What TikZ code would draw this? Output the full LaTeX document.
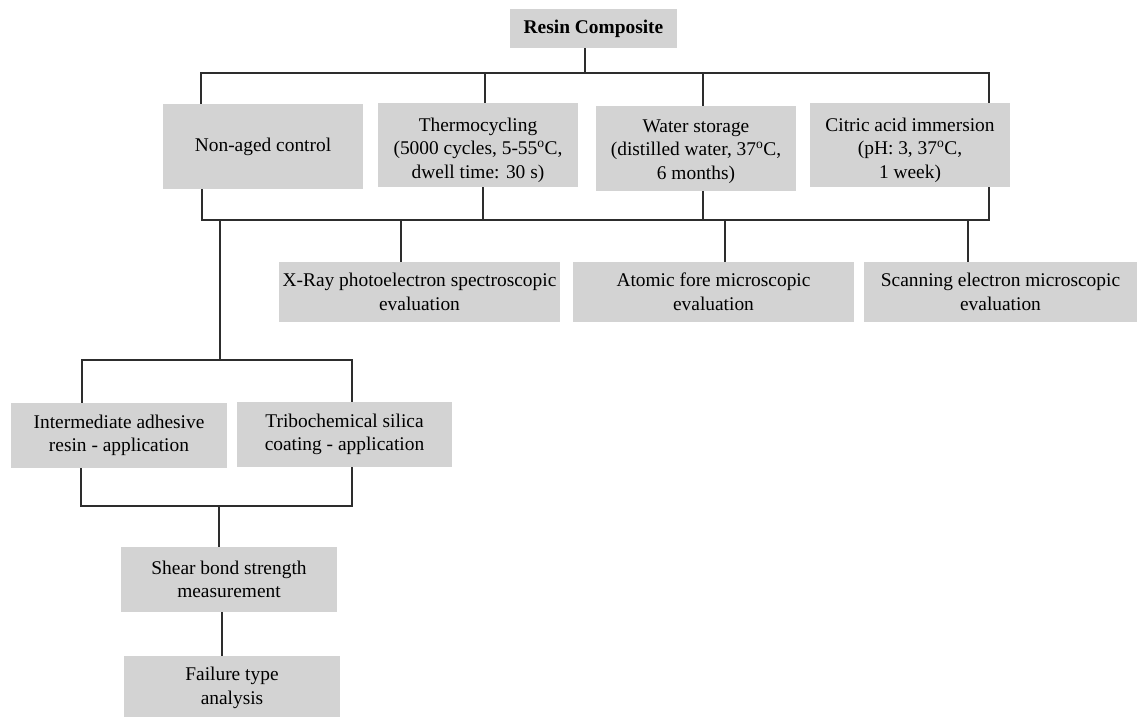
\documentclass[tikz,border=0pt]{standalone}
\usepackage{fontspec}
\setmainfont{Liberation Serif}
\definecolor{boxgray}{RGB}{211,211,211}
\definecolor{linegray}{RGB}{45,45,45}
\begin{document}
\begin{tikzpicture}[x=1pt,y=-1pt,
  box/.style={fill=boxgray,draw=none,inner sep=0pt,align=center,
    font=\fontsize{19.4}{23.5}\selectfont},
  conn/.style={draw=linegray,line width=2pt}]
\useasboundingbox (0,0) rectangle (1137,716);
% nodes
\node[box,minimum width=167,minimum height=39,font=\fontsize{19.4}{23.5}\selectfont\bfseries] (rc) at (593.5,28.5) {Resin Composite};
\node[box,minimum width=200,minimum height=85] (na) at (263,146.5) {Non-aged control};
\node[box,minimum width=200,minimum height=84] (tc) at (478,145) {\rule{0pt}{24pt}Thermocycling\\(5000 cycles, 5-55\textsuperscript{o}C,\\dwell time: 30 s)};
\node[box,minimum width=200,minimum height=85] (ws) at (696,148.5) {\rule{0pt}{19pt}Water storage\\(distilled water, 37\textsuperscript{o}C,\\6 months)};
\node[box,minimum width=200,minimum height=84] (ca) at (910,145) {\rule{0pt}{24pt}Citric acid immersion\\(pH: 3, 37\textsuperscript{o}C,\\1 week)};
\node[box,minimum width=281,minimum height=60] (xr) at (419.5,292) {X-Ray photoelectron spectroscopic\\evaluation};
\node[box,minimum width=281,minimum height=60] (af) at (713.5,292) {Atomic fore microscopic\\evaluation};
\node[box,minimum width=273,minimum height=60] (se) at (1000.5,292) {Scanning electron microscopic\\evaluation};
\node[box,minimum width=216,minimum height=65] (ia) at (119,435.5) {Intermediate adhesive\\resin - application};
\node[box,minimum width=215,minimum height=65] (tb) at (344.5,434.5) {Tribochemical silica\\coating - application};
\node[box,minimum width=216,minimum height=65] (sb) at (229,579.5) {Shear bond strength\\measurement};
\node[box,minimum width=216,minimum height=64] (ft) at (232,688) {Failure type\\analysis};
% junction coordinates
\coordinate (t0) at (585,73);
\coordinate (t1) at (201,73);
\coordinate (t2) at (485,73);
\coordinate (t3) at (703,73);
\coordinate (t4) at (989,73);
\coordinate (b1) at (202,220);
\coordinate (b2) at (483,220);
\coordinate (b3) at (703,220);
\coordinate (b4) at (989,220);
\coordinate (d1) at (401,220);
\coordinate (d2) at (725,220);
\coordinate (d3) at (968,220);
\coordinate (m0) at (220,220);
\coordinate (m1) at (220,360);
\coordinate (m2) at (82,360);
\coordinate (m3) at (352,360);
\coordinate (p1) at (81,506);
\coordinate (p2) at (352,506);
\coordinate (p0) at (219,506);
\coordinate (q0) at (222,616);
% top bus
\draw[conn] (rc.south -| t0) -- (t0);
\draw[conn] (na.north -| t1) -- (t1) -- (t4) -- (ca.north -| t4);
\draw[conn] (t2) -- (tc.north -| t2);
\draw[conn] (t3) -- (ws.north -| t3);
% lower bus
\draw[conn] (na.south -| b1) -- (b1) -- (b4) -- (ca.south -| b4);
\draw[conn] (tc.south -| b2) -- (b2);
\draw[conn] (ws.south -| b3) -- (b3);
\draw[conn] (d1) -- (xr.north -| d1);
\draw[conn] (d2) -- (af.north -| d2);
\draw[conn] (d3) -- (se.north -| d3);
% left branch
\draw[conn] (m0) -- (m1);
\draw[conn] (ia.north -| m2) -- (m2) -- (m3) -- (tb.north -| m3);
\draw[conn] (ia.south -| p1) -- (p1) -- (p2) -- (tb.south -| p2);
\draw[conn] (p0) -- (sb.north -| p0);
\draw[conn] (sb.south -| q0) -- (ft.north -| q0);
\end{tikzpicture}
\end{document}
